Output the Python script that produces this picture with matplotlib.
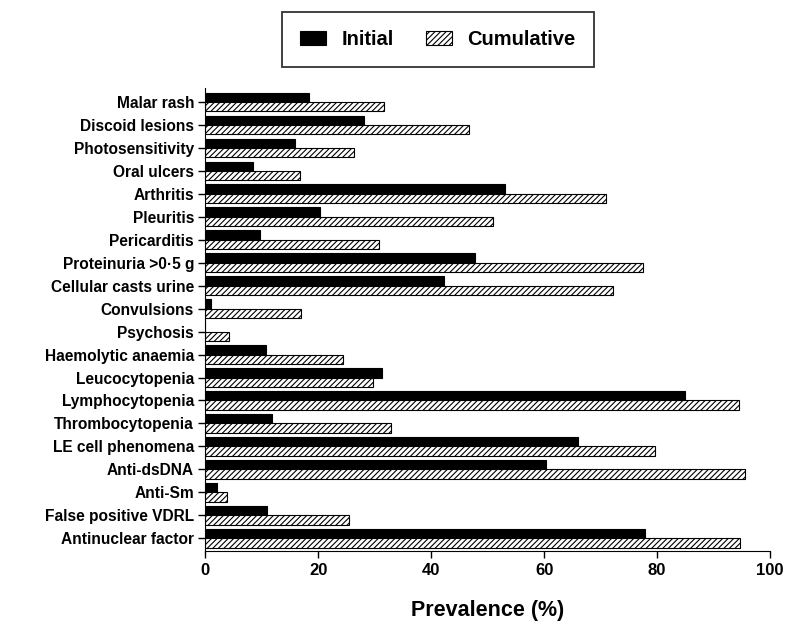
"""Prevalence of SLE criteria: initial vs cumulative, horizontal grouped bars."""

import matplotlib
matplotlib.use("Agg")
import matplotlib.pyplot as plt
import numpy as np

# ---------------------------------------------------------------------------
# data
# ---------------------------------------------------------------------------
categories = [
    "Malar rash", "Discoid lesions", "Photosensitivity", "Oral ulcers",
    "Arthritis", "Pleuritis", "Pericarditis", "Proteinuria >0\u00b75 g",
    "Cellular casts urine", "Convulsions", "Psychosis", "Haemolytic anaemia",
    "Leucocytopenia", "Lymphocytopenia", "Thrombocytopenia",
    "LE cell phenomena", "Anti-dsDNA", "Anti-Sm", "False positive VDRL",
    "Antinuclear factor",
]
initial = [18.4, 28.1, 15.9, 8.5, 53.1, 20.4, 9.7, 47.8, 42.3, 1.0,
           0.0, 10.8, 31.3, 85.0, 11.9, 66.0, 60.4, 2.1, 11.0, 77.9]
cumulative = [31.7, 46.7, 26.4, 16.8, 71.0, 51.0, 30.8, 77.5, 72.2, 17.0,
              4.2, 24.4, 29.7, 94.5, 32.9, 79.6, 95.6, 3.9, 25.5, 94.7]
xticks = [0, 20, 40, 60, 80, 100]

plt.rcParams["font.family"] = ["Liberation Sans", "DejaVu Sans"]
plt.rcParams["hatch.linewidth"] = 0.8

fig = plt.figure(figsize=(7.89, 6.24), dpi=100)
ax = fig.add_axes([0.26, 0.117, 0.716, 0.742])

y = np.arange(len(categories))
h = 0.4
ax.barh(y - h / 2, initial, height=h, color="black", edgecolor="black",
        linewidth=0.8, label="Initial")
ax.barh(y + h / 2, cumulative, height=h, color="white", edgecolor="black",
        hatch="//////", linewidth=0.8, label="Cumulative")

ax.set_ylim(len(categories) - 0.45, -0.6)
ax.set_xlim(0, 100)
ax.set_yticks(y)
ax.set_yticklabels(categories, fontsize=11.2, fontweight="bold")
ax.set_xticks(xticks)
ax.set_xticklabels([str(t) for t in xticks], fontsize=12, fontweight="bold")
ax.set_xlabel("Prevalence (%)", fontsize=15.5, fontweight="bold", labelpad=16)

for side in ("top", "right"):
    ax.spines[side].set_visible(False)
ax.tick_params(axis="both", direction="out", length=5, width=1, color="black")
ax.tick_params(axis="y", pad=3)

leg = fig.legend(loc="upper center", bbox_to_anchor=(0.555, 0.981), ncol=2,
                 prop={"size": 14.5, "weight": "bold"}, frameon=True,
                 fancybox=False, edgecolor="black", borderaxespad=0,
                 handlelength=1.3, handleheight=0.65, columnspacing=1.6,
                 borderpad=0.9, handletextpad=0.75)
leg.get_frame().set_linewidth(1.3)

fig.savefig("out.png", dpi=100)
